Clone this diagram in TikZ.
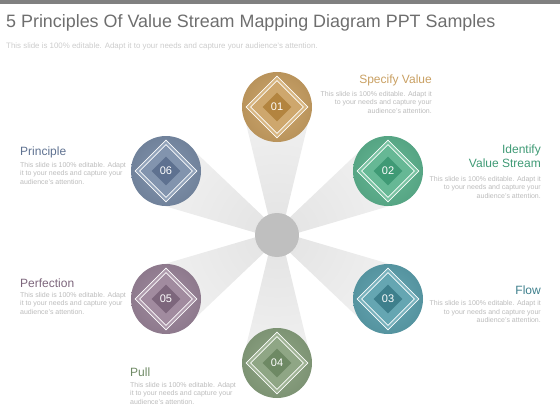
\documentclass[tikz,border=0pt]{standalone}
\usepackage{fontspec}
\setmainfont{Liberation Sans}
\usetikzlibrary{shapes.geometric}
\usetikzlibrary{positioning}
\usetikzlibrary{calc}

\definecolor{tanM}{HTML}{C9A063}
\definecolor{tanL}{HTML}{DCBD8C}
\definecolor{tanD}{HTML}{B3843F}
\definecolor{grnM}{HTML}{5DB38F}
\definecolor{grnL}{HTML}{82C7A8}
\definecolor{grnD}{HTML}{3F9A75}
\definecolor{tealM}{HTML}{5CA0AD}
\definecolor{tealL}{HTML}{82B8C3}
\definecolor{tealD}{HTML}{3E7F8C}
\definecolor{sageM}{HTML}{88A07E}
\definecolor{sageL}{HTML}{A5B89C}
\definecolor{sageD}{HTML}{6E8964}
\definecolor{mauveM}{HTML}{9A8499}
\definecolor{mauveL}{HTML}{B5A2B3}
\definecolor{mauveD}{HTML}{7D667C}
\definecolor{slateM}{HTML}{7A8DA8}
\definecolor{slateL}{HTML}{9AAAC0}
\definecolor{slateD}{HTML}{5E7190}
\definecolor{titlegray}{HTML}{6E6E6E}
\definecolor{notegray}{HTML}{BBBBBB}

\tikzset{
  bubble/.style={circle,inner sep=0pt,minimum size=70pt,inner color=#1M!70!#1L,outer color=#1M!92!black},
  rim/.style={diamond,aspect=1,inner sep=0pt,draw=white,line width=0.8pt,minimum size=62pt,fill=#1L!75!#1M},
  inrim/.style={diamond,aspect=1,inner sep=0pt,draw=white,line width=0.8pt,minimum size=53pt,fill=#1M!75!#1L},
  core/.style={diamond,aspect=1,inner sep=0pt,minimum size=29pt,fill=#1D,text=white,font=\fontsize{11}{11}\selectfont},
  head/.style={inner sep=0pt,font=\fontsize{12}{14}\selectfont},
  note/.style={inner sep=0pt,text=notegray,font=\fontsize{7}{8.5}\selectfont}
}

\begin{document}
\begin{tikzpicture}[x=1pt,y=-1pt]
\useasboundingbox (0,0) rectangle (560,420);
\fill[black!50] (0,0) rectangle (560,4);
\node[inner sep=0pt,anchor=base west,text=titlegray,font=\fontsize{17.9}{20}\selectfont] (title) at (6,27.3) {5 Principles Of Value Stream Mapping Diagram PPT Samples};
\node[inner sep=0pt,anchor=base west,text=black!20,font=\fontsize{7.9}{9}\selectfont] (sub) at (6,49) {This slide is 100\% editable.  Adapt it to your needs and capture your audience's attention.};

\coordinate (ctr) at (277,235);
\coordinate (c1) at (277,107);
\coordinate (c2) at (388,171);
\coordinate (c3) at (388,299);
\coordinate (c4) at (277,363);
\coordinate (c5) at (166,299);
\coordinate (c6) at (166,171);

\begin{scope}
\clip ($(ctr)!4pt!90:(c1)$) -- ($(c1)!35pt!-90:(ctr)$) -- ($(c1)!35pt!90:(ctr)$) -- ($(ctr)!4pt!-90:(c1)$) -- cycle
      ($(ctr)!4pt!90:(c2)$) -- ($(c2)!35pt!-90:(ctr)$) -- ($(c2)!35pt!90:(ctr)$) -- ($(ctr)!4pt!-90:(c2)$) -- cycle
      ($(ctr)!4pt!90:(c3)$) -- ($(c3)!35pt!-90:(ctr)$) -- ($(c3)!35pt!90:(ctr)$) -- ($(ctr)!4pt!-90:(c3)$) -- cycle
      ($(ctr)!4pt!90:(c4)$) -- ($(c4)!35pt!-90:(ctr)$) -- ($(c4)!35pt!90:(ctr)$) -- ($(ctr)!4pt!-90:(c4)$) -- cycle
      ($(ctr)!4pt!90:(c5)$) -- ($(c5)!35pt!-90:(ctr)$) -- ($(c5)!35pt!90:(ctr)$) -- ($(ctr)!4pt!-90:(c5)$) -- cycle
      ($(ctr)!4pt!90:(c6)$) -- ($(c6)!35pt!-90:(ctr)$) -- ($(c6)!35pt!90:(ctr)$) -- ($(ctr)!4pt!-90:(c6)$) -- cycle;
\shade[inner color=black!11,outer color=black!5] (ctr) circle (145pt);
\end{scope}
\fill[black!25] (ctr) circle (22pt);

\node[bubble=tan] (b1) at (c1) {};
\node[rim=tan] at (b1) {};
\node[inrim=tan] at (b1) {};
\node[core=tan] (d1) at (b1) {01};

\node[bubble=grn] (b2) at (c2) {};
\node[rim=grn] at (b2) {};
\node[inrim=grn] at (b2) {};
\node[core=grn] (d2) at (b2) {02};

\node[bubble=teal] (b3) at (c3) {};
\node[rim=teal] at (b3) {};
\node[inrim=teal] at (b3) {};
\node[core=teal] (d3) at (b3) {03};

\node[bubble=sage] (b4) at (c4) {};
\node[rim=sage] at (b4) {};
\node[inrim=sage] at (b4) {};
\node[core=sage] (d4) at (b4) {04};

\node[bubble=mauve] (b5) at (c5) {};
\node[rim=mauve] at (b5) {};
\node[inrim=mauve] at (b5) {};
\node[core=mauve] (d5) at (b5) {05};

\node[bubble=slate] (b6) at (c6) {};
\node[rim=slate] at (b6) {};
\node[inrim=slate] at (b6) {};
\node[core=slate] (d6) at (b6) {06};

\node[head,text=tanM,anchor=base east] (t1) at (432,84) {Specify Value};
\node[note,align=right,anchor=north east] (n1) at (432,91) {This slide is 100\% editable. Adapt it\\to your needs and capture your\\audience's attention.};

\node[head,text=grnD,align=right,anchor=north east] (t2) at (541,144.4) {Identify\\Value Stream};
\node[note,align=right,anchor=north east] (n2) at (541,176) {This slide is 100\% editable. Adapt it\\to your needs and capture your\\audience's attention.};

\node[head,text=tealD,anchor=base east] (t3) at (541,294) {Flow};
\node[note,align=right,anchor=north east] (n3) at (541,300.5) {This slide is 100\% editable. Adapt it\\to your needs and capture your\\audience's attention.};

\node[head,text=sageD,anchor=base west] (t4) at (130,376.5) {Pull};
\node[note,align=left,anchor=north west] (n4) at (130,382) {This slide is 100\% editable. Adapt\\it to your needs and capture your\\audience's attention.};

\node[head,text=mauveD,anchor=base west] (t5) at (20,287) {Perfection};
\node[note,align=left,anchor=north west] (n5) at (20,292) {This slide is 100\% editable. Adapt\\it to your needs and capture your\\audience's attention.};

\node[head,text=slateD,anchor=base west] (t6) at (20,155.5) {Principle};
\node[note,align=left,anchor=north west] (n6) at (20,162) {This slide is 100\% editable. Adapt\\it to your needs and capture your\\audience's attention.};
\end{tikzpicture}
\end{document}
